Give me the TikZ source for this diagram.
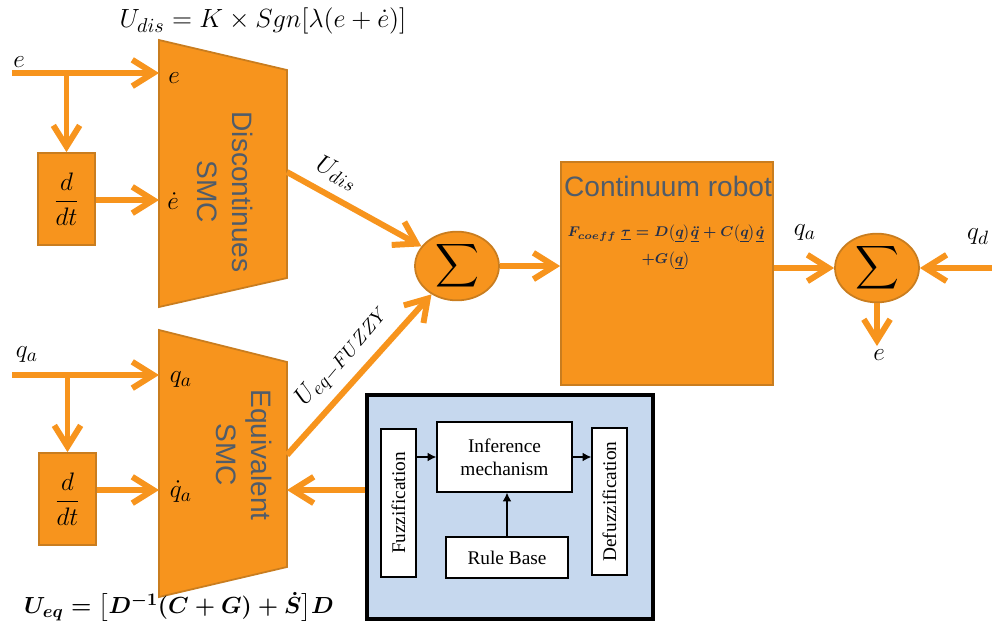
\documentclass[tikz,border=0pt]{standalone}
\usepackage{amsmath}
\usepackage{fontspec}
\newfontfamily\smcsans{Liberation Sans}
\newfontfamily\fzserif{Liberation Serif}
\usetikzlibrary{arrows.meta,shapes.geometric}
\definecolor{smcorange}{HTML}{F7941D}
\definecolor{smcedge}{HTML}{C97D1F}
\definecolor{smcgrey}{HTML}{505C6A}
\definecolor{fzblue}{HTML}{C6D8EE}
\definecolor{eqnavy}{HTML}{25304A}
\tikzset{
  oflow/.style={draw=smcorange,line width=3.4pt,-{Straight Barb[length=12pt,width=15pt]}},
  smcfill/.style={draw=smcedge,line width=1pt,fill=smcorange},
  mlab/.style={font=\fontsize{15}{18}\selectfont,inner sep=0pt},
  smctxt/.style={font=\smcsans\fontsize{16}{20}\selectfont,text=smcgrey,align=center,inner sep=0pt},
  fzbox/.style={draw=black,line width=0.7pt,fill=white,font=\fzserif\fontsize{11}{13}\selectfont,align=center,inner sep=0pt},
  ctrl/.style={draw=black,line width=0.8pt,-{Latex[length=5pt,width=5pt]}},
  sumnode/.style={ellipse,smcfill,minimum width=1.68cm,minimum height=1.36cm,inner sep=0pt,font=\fontsize{18}{18}\selectfont}
}
\begin{document}
\begin{tikzpicture}[x=0.02cm,y=-0.02cm]
\useasboundingbox (0,0) rectangle (992,627);
\draw[smcfill](159,40)--(287,70)--(287,278)--(159,307)--cycle;
\draw[smcfill](159,330)--(287,362)--(287,567)--(159,597)--cycle;
\node[smctxt,rotate=-90] (dislab) at (225,192) {Discontinues\\SMC};
\node[smctxt,rotate=-90] (eqlab) at (244,455) {Equivalent\\SMC};
\foreach \n/\x/\y in {1/66.5/199,2/67.5/499}
  \node[smcfill,minimum width=1.14cm,minimum height=1.84cm,inner sep=0pt,font=\fontsize{15}{18}\selectfont] (ddt\n) at (\x,\y) {$\dfrac{d}{dt}$};
\coordinate (ein) at (12,73);
\coordinate (ebr) at (66.5,73);
\coordinate (dise) at (159,73);
\coordinate (dised) at (159,200);
\coordinate (disout) at (287,172);
\coordinate (qin) at (12,375);
\coordinate (qbr) at (67.5,375);
\coordinate (eqq) at (159,375);
\coordinate (eqqd) at (159,490);
\coordinate (eqout) at (287,455);
\coordinate (eqfz) at (287,490);
\node[sumnode] (sum1) at (457,266) {$\displaystyle\sum$};
\node[sumnode] (sum2) at (877,268) {$\displaystyle\sum$};
\node[smcfill,minimum width=4.24cm,minimum height=4.46cm,inner sep=0pt] (robot) at (667,273.5) {};
\node[smctxt] (robottitle) at (668,186) {Continuum robot};
\node[align=center,text=eqnavy,font=\fontsize{8}{10}\selectfont\boldmath] (roboteq) at (666,247)
  {$F_{coeff}\;\underline{\tau}=D\big(\underline{q}\big)\underline{\ddot{q}}+C\big(\underline{q}\big)\underline{\dot{q}}$\\[4pt]$+G\big(\underline{q}\big)$};
\node[draw=black,line width=1.8pt,fill=fzblue,minimum width=5.72cm,minimum height=4.48cm] (fuzzy) at (510,507) {};
\node[fzbox,rotate=90,minimum width=2.96cm,minimum height=0.7cm] (fuzz) at (398.5,503) {Fuzzification};
\node[fzbox,rotate=90,minimum width=2.94cm,minimum height=0.7cm] (defuzz) at (609.5,501.5) {Defuzzification};
\node[fzbox,minimum width=2.7cm,minimum height=1.4cm] (infer) at (504.5,457) {Inference\\mechanism};
\node[fzbox,minimum width=2.44cm,minimum height=0.82cm] (rule) at (507,557.5) {Rule Base};
\draw[ctrl](fuzz.south|-infer.west)--(infer.west);
\draw[ctrl](infer.east)--(infer.east-|defuzz.north);
\draw[ctrl](rule.north)--(rule.north|-infer.south);
\draw[oflow](ein)--(dise);
\draw[oflow](ebr)--(ddt1.north);
\draw[oflow](ddt1.east|-dised)--(dised);
\draw[oflow](qin)--(eqq);
\draw[oflow](qbr)--(ddt2.north);
\draw[oflow](ddt2.east|-eqqd)--(eqqd);
\draw[oflow](disout)--(sum1);
\draw[oflow](eqout)--(sum1);
\draw[oflow](sum1.east)--(sum1.east-|robot.west);
\draw[oflow](robot.east|-sum2.west)--(sum2.west);
\coordinate (qdin) at (992,268);
\coordinate (eout) at (877,346);
\draw[oflow](qdin)--(sum2.east);
\draw[oflow](sum2.south)--(eout);
\draw[oflow](fuzzy.west|-eqfz)--(eqfz);
\node[mlab] (elab) at (19,62) {$e$};
\node[mlab] (einlab) at (174,78) {$e$};
\node[mlab] (edotlab) at (173,201) {$\dot{e}$};
\node[mlab] (qlab) at (27,355) {$q_a$};
\node[mlab] (qinlab) at (181,380) {$q_a$};
\node[mlab] (qdotlab) at (181,492) {$\dot{q}_a$};
\node[mlab] (qalab) at (805,233) {$q_a$};
\node[mlab] (qdlab) at (978,237) {$q_d$};
\node[mlab] (eoutlab) at (879,355) {$e$};
\node[mlab,rotate=-26] (udislab) at (337,173) {$U_{dis}$};
\node[mlab,rotate=50] (ueqlab) at (342,355) {$U_{eq-FUZZY}$};
\node[mlab,transform shape,scale=1.04] (udiseq) at (263,21) {$U_{dis}=K\times Sgn[\lambda(e+\dot{e})]$};
\node[mlab,transform shape,scale=0.92,font=\fontsize{15}{18}\selectfont\boldmath] (ueqeq) at (179,607) {$U_{eq}=\big[D^{-1}(C+G)+\dot{S}\big]D$};
\end{tikzpicture}
\end{document}
